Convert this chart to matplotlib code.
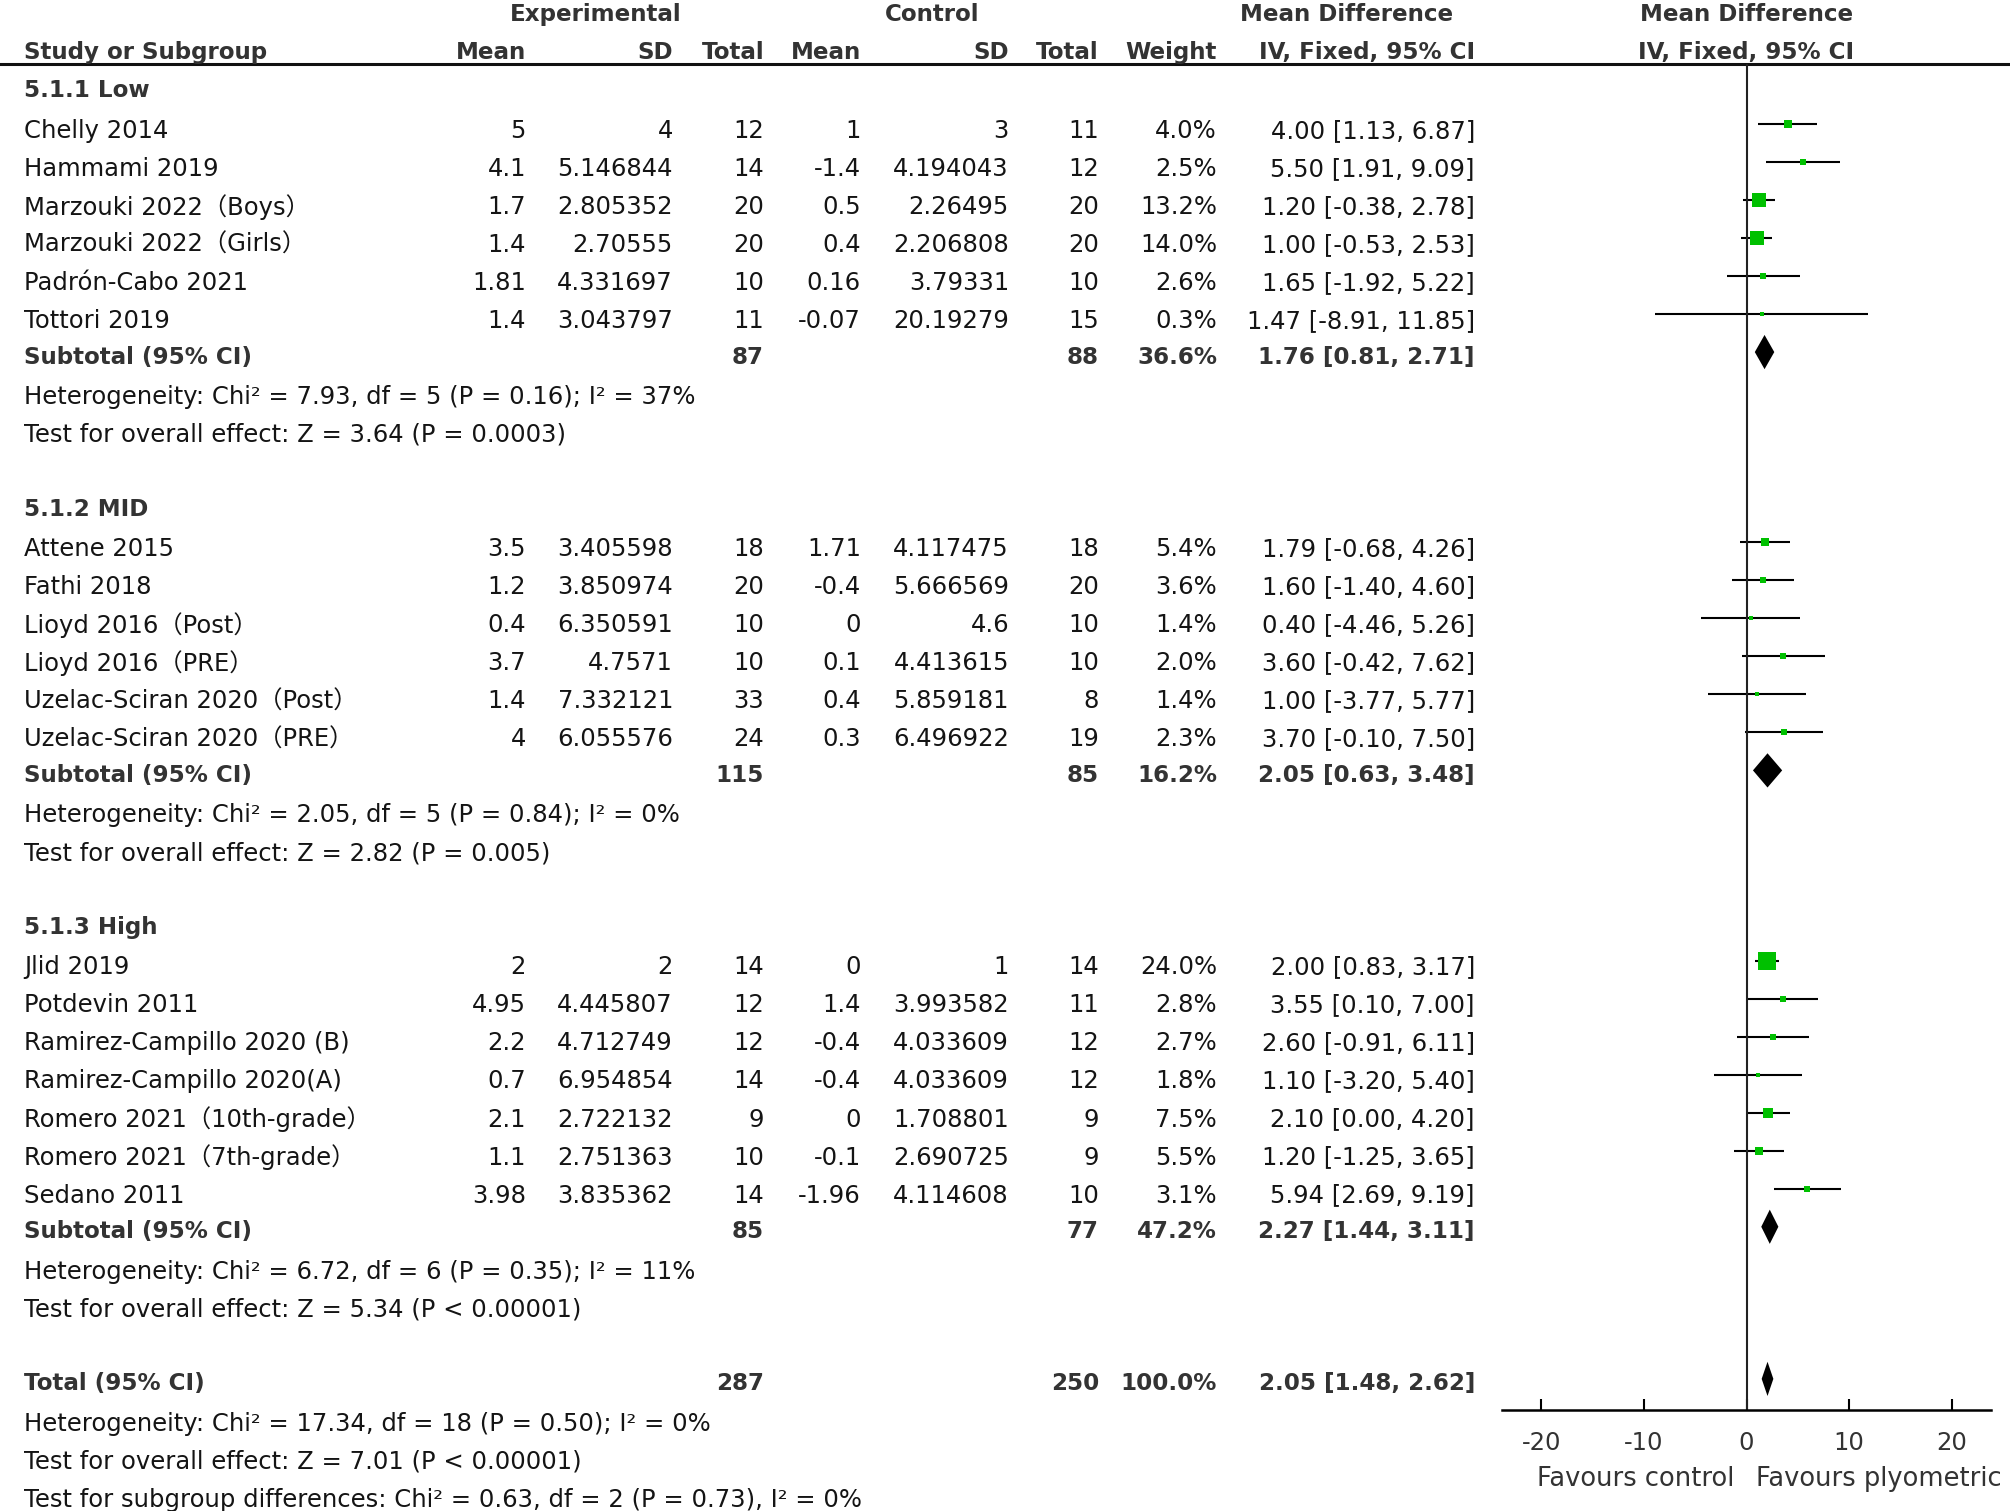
import matplotlib.pyplot as plt

plt.rcParams['font.family'] = ['DejaVu Sans', 'Noto Sans CJK SC']
plt.rcParams['axes.unicode_minus'] = False

# ---- data ----
group_names = ["5.1.1 Low", "5.1.2 MID", "5.1.3 High"]

study_names = [
    ["Chelly 2014", "Hammami 2019", "Marzouki 2022（Boys）", "Marzouki 2022（Girls）",
     "Padrón-Cabo 2021", "Tottori 2019"],
    ["Attene 2015", "Fathi 2018", "Lioyd 2016（Post）", "Lioyd 2016（PRE）",
     "Uzelac-Sciran 2020（Post）", "Uzelac-Sciran 2020（PRE）"],
    ["Jlid 2019", "Potdevin 2011", "Ramirez-Campillo 2020 (B)", "Ramirez-Campillo 2020(A)",
     "Romero 2021（10th-grade）", "Romero 2021（7th-grade）", "Sedano 2011"],
]
exp_mean = [[5, 4.1, 1.7, 1.4, 1.81, 1.4],
            [3.5, 1.2, 0.4, 3.7, 1.4, 4],
            [2, 4.95, 2.2, 0.7, 2.1, 1.1, 3.98]]
exp_sd = [[4, 5.146844, 2.805352, 2.70555, 4.331697, 3.043797],
          [3.405598, 3.850974, 6.350591, 4.7571, 7.332121, 6.055576],
          [2, 4.445807, 4.712749, 6.954854, 2.722132, 2.751363, 3.835362]]
exp_n = [[12, 14, 20, 20, 10, 11],
         [18, 20, 10, 10, 33, 24],
         [14, 12, 12, 14, 9, 10, 14]]
ctl_mean = [[1, -1.4, 0.5, 0.4, 0.16, -0.07],
            [1.71, -0.4, 0, 0.1, 0.4, 0.3],
            [0, 1.4, -0.4, -0.4, 0, -0.1, -1.96]]
ctl_sd = [[3, 4.194043, 2.26495, 2.206808, 3.79331, 20.19279],
          [4.117475, 5.666569, 4.6, 4.413615, 5.859181, 6.496922],
          [1, 3.993582, 4.033609, 4.033609, 1.708801, 2.690725, 4.114608]]
ctl_n = [[11, 12, 20, 20, 10, 15],
         [18, 20, 10, 10, 8, 19],
         [14, 11, 12, 12, 9, 9, 10]]
weight = [[4.0, 2.5, 13.2, 14.0, 2.6, 0.3],
          [5.4, 3.6, 1.4, 2.0, 1.4, 2.3],
          [24.0, 2.8, 2.7, 1.8, 7.5, 5.5, 3.1]]
md = [[4.00, 5.50, 1.20, 1.00, 1.65, 1.47],
      [1.79, 1.60, 0.40, 3.60, 1.00, 3.70],
      [2.00, 3.55, 2.60, 1.10, 2.10, 1.20, 5.94]]
ci_lo = [[1.13, 1.91, -0.38, -0.53, -1.92, -8.91],
         [-0.68, -1.40, -4.46, -0.42, -3.77, -0.10],
         [0.83, 0.10, -0.91, -3.20, 0.00, -1.25, 2.69]]
ci_hi = [[6.87, 9.09, 2.78, 2.53, 5.22, 11.85],
         [4.26, 4.60, 5.26, 7.62, 5.77, 7.50],
         [3.17, 7.00, 6.11, 5.40, 4.20, 3.65, 9.19]]

sub_exp_n = [87, 115, 85]
sub_ctl_n = [88, 85, 77]
sub_weight = [36.6, 16.2, 47.2]
sub_md = [1.76, 2.05, 2.27]
sub_lo = [0.81, 0.63, 1.44]
sub_hi = [2.71, 3.48, 3.11]
sub_het = ["Heterogeneity: Chi² = 7.93, df = 5 (P = 0.16); I² = 37%",
           "Heterogeneity: Chi² = 2.05, df = 5 (P = 0.84); I² = 0%",
           "Heterogeneity: Chi² = 6.72, df = 6 (P = 0.35); I² = 11%"]
sub_test = ["Test for overall effect: Z = 3.64 (P = 0.0003)",
            "Test for overall effect: Z = 2.82 (P = 0.005)",
            "Test for overall effect: Z = 5.34 (P < 0.00001)"]

total_exp_n, total_ctl_n, total_weight = 287, 250, 100.0
total_md, total_lo, total_hi = 2.05, 1.48, 2.62
total_notes = ["Heterogeneity: Chi² = 17.34, df = 18 (P = 0.50); I² = 0%",
               "Test for overall effect: Z = 7.01 (P < 0.00001)",
               "Test for subgroup differences: Chi² = 0.63, df = 2 (P = 0.73), I² = 0%"]

x_ticks = [-20, -10, 0, 10, 20]
favours = ["Favours control", "Favours plyometric"]

# ---- layout ----
W, H = 2010, 1511
fs = 17.5
fs_bold = 16.6
txt = '#141414'
bold_c = '#333333'
green = '#00c000'
row0, step = 92.7, 38.03           # pixel y of row 0 and row spacing
mark_dy = -0.18                    # marks sit a little above the text centre
ylim = ((H - row0) / step, -row0 / step)


def row_of(py):
    return (py - row0) / step


fig = plt.figure(figsize=(W / 100, H / 100), dpi=100)
ax = fig.add_axes([0, 0, 1, 1])
ax.set_xlim(0, W)
ax.set_ylim(*ylim)
ax.axis('off')

fx = fig.add_axes([1502 / W, 0, (1991 - 1502) / W, 1])
fx.set_xlim(-23.85, 23.85)
fx.set_ylim(*ylim)
fx.patch.set_visible(False)

col_x = [526, 673, 764, 861, 1009, 1099, 1217, 1475]
left_x = 24


def t(x, y, s, ha='left', bold=False, axis=ax):
    axis.text(x, y, s, ha=ha, va='center', fontsize=fs_bold if bold else fs,
              weight='bold' if bold else 'normal', color=bold_c if bold else txt)


# header
t(596, -2.05, "Experimental", 'center', True)
t(932, -2.05, "Control", 'center', True)
t(1347, -2.05, "Mean Difference", 'center', True)
t(0, -2.05, "Mean Difference", 'center', True, fx)
t(left_x, -1.05, "Study or Subgroup", bold=True)
for x, h in zip(col_x, ["Mean", "SD", "Total", "Mean", "SD", "Total", "Weight", "IV, Fixed, 95% CI"]):
    t(x, -1.05, h, 'right', True)
t(0, -1.05, "IV, Fixed, 95% CI", 'center', True, fx)
line_row = row_of(64)
ax.axhline(line_row, color='#111111', lw=2.2)


def ci_text(m, lo, hi):
    return f"{m:.2f} [{lo:.2f}, {hi:.2f}]"


def diamond(y, m, lo, hi):
    y = y + mark_dy
    fx.fill([lo, m, hi, m], [y, y - 0.45, y, y + 0.45], color='black', lw=0, zorder=3)


r = 0
for g, gname in enumerate(group_names):
    t(left_x, r - 0.05, gname, bold=True)
    r += 1
    for i, name in enumerate(study_names[g]):
        vals = [str(exp_mean[g][i]), str(exp_sd[g][i]), str(exp_n[g][i]),
                str(ctl_mean[g][i]), str(ctl_sd[g][i]), str(ctl_n[g][i]),
                f"{weight[g][i]:.1f}%", ci_text(md[g][i], ci_lo[g][i], ci_hi[g][i])]
        t(left_x, r, name)
        for x, v in zip(col_x, vals):
            t(x, r, v, 'right')
        fx.hlines(r + mark_dy, ci_lo[g][i], ci_hi[g][i], color='black', lw=1.5)
        side = max(5.0, 3.6 * weight[g][i] ** 0.5) * 0.72
        fx.scatter([md[g][i]], [r + mark_dy], marker='s', s=side ** 2, color=green,
                   linewidths=0, zorder=3)
        r += 1
    t(left_x, r - 0.05, "Subtotal (95% CI)", bold=True)
    for x, v in zip([col_x[2], col_x[5], col_x[6], col_x[7]],
                    [str(sub_exp_n[g]), str(sub_ctl_n[g]), f"{sub_weight[g]:.1f}%",
                     ci_text(sub_md[g], sub_lo[g], sub_hi[g])]):
        t(x, r - 0.05, v, 'right', True)
    diamond(r, sub_md[g], sub_lo[g], sub_hi[g])
    r += 1
    t(left_x, r, sub_het[g])
    r += 1
    t(left_x, r, sub_test[g])
    r += 2

t(left_x, r - 0.05, "Total (95% CI)", bold=True)
for x, v in zip([col_x[2], col_x[5], col_x[6], col_x[7]],
                [str(total_exp_n), str(total_ctl_n), f"{total_weight:.1f}%",
                 ci_text(total_md, total_lo, total_hi)]):
    t(x, r - 0.05, v, 'right', True)
diamond(r, total_md, total_lo, total_hi)
for note in total_notes:
    r += 1
    t(left_x, r, note)

# forest axis
axis_row = row_of(1410)
fx.vlines(0, line_row, axis_row, color='#222222', lw=1.5)
for s in ['left', 'right', 'top']:
    fx.spines[s].set_visible(False)
fx.spines['bottom'].set_position(('data', axis_row))
fx.spines['bottom'].set_linewidth(1.8)
fx.set_yticks([])
fx.set_xticks(x_ticks)
fx.set_xticklabels([str(v) for v in x_ticks])
fx.tick_params(axis='x', direction='in', length=8, width=1.5, pad=15,
               labelsize=fs, labelcolor='#333333')
fav_row = row_of(1479)
fx.text(-1.2, fav_row, favours[0], ha='right', va='center', fontsize=18.5, color='#333333')
fx.text(0.9, fav_row, favours[1], ha='left', va='center', fontsize=18.5, color='#333333')

fig.savefig("out.png", dpi=100)
